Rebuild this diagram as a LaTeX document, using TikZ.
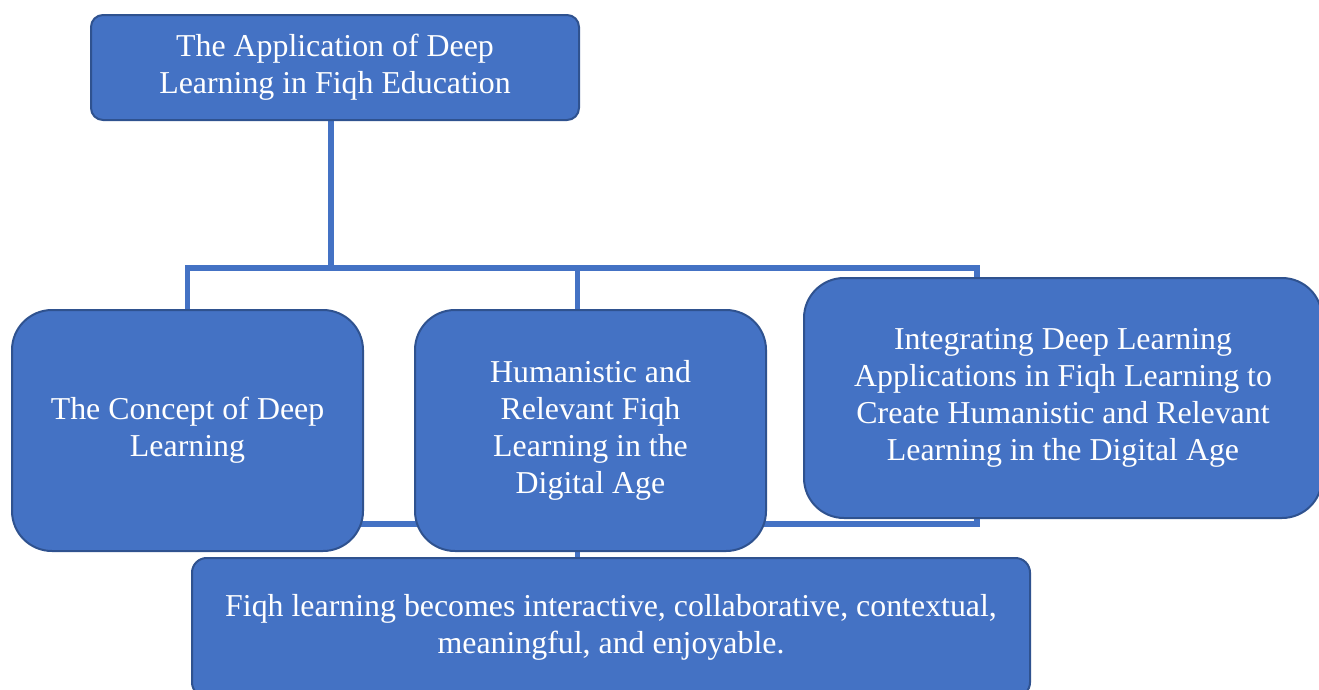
\documentclass[tikz,border=0pt]{standalone}
\usepackage{fontspec}
\setmainfont{Liberation Serif}
\usetikzlibrary{backgrounds}
\definecolor{boxblue}{HTML}{4472C4}
\definecolor{edgeblue}{HTML}{2F528F}

\begin{document}
\begin{tikzpicture}[x=0.75pt,y=-0.75pt]
\tikzstyle{block} = [rectangle, draw=edgeblue, line width=1.5pt, fill=boxblue,
text=white, align=center, inner sep=0pt,
font=\fontsize{23.9pt}{27.75pt}\selectfont]
\tikzstyle{block_top} = [block, rounded corners=9pt,
minimum width=366pt, minimum height=78.75pt]
\tikzstyle{block_mid} = [block, rounded corners=30pt,
minimum width=263.25pt, minimum height=180.75pt]
\tikzstyle{block_wide} = [block, rounded corners=30pt,
minimum width=388.5pt, minimum height=180pt]
\tikzstyle{block_end} = [block, rounded corners=11pt,
minimum width=628.5pt, minimum height=104.25pt]
\tikzstyle{line} = [draw, line width=4pt, boxblue];

\useasboundingbox (0,0) rectangle (1319,689);

% top
\node [block_top] (app) at (335,67.5) {The Application of Deep\\Learning in Fiqh Education};
% row of three
\node [block_mid] (concept) at (187.5,430.5) {The Concept of Deep\\Learning};
\node [block_mid] (humanistic) at (590.5,430.5) {Humanistic and\\Relevant Fiqh\\Learning in the\\Digital Age};
\node [block_wide] (integrating) at (1063,398) {Integrating Deep Learning\\Applications in Fiqh Learning to\\Create Humanistic and Relevant\\Learning in the Digital Age};
% result
\node [block_end] (result) at (611,627.5) {Fiqh learning becomes interactive, collaborative, contextual,\\meaningful, and enjoyable.};

\begin{pgfonlayer}{background}
\coordinate (bus_top) at ([xshift=-3pt]app.south |- 0,268);
\coordinate (bus_low) at ([xshift=-9.75pt]humanistic.south |- 0,524);
\path[line] ([xshift=-3pt]app.south) -- (bus_top);
\path[line] (bus_top) -| (concept.north);
\path[line] (bus_top) -| ([xshift=-9.75pt]humanistic.north);
\path[line] (bus_top) -| ([xshift=-64.5pt]integrating.north);
\path[line] (concept.south) |- (bus_low);
\path[line] ([xshift=-64.5pt]integrating.south) |- (bus_low);
\path[line] ([xshift=-9.75pt]humanistic.south) -- ([xshift=-9.75pt]humanistic.south |- result.north);
\end{pgfonlayer}
\end{tikzpicture}
\end{document}
